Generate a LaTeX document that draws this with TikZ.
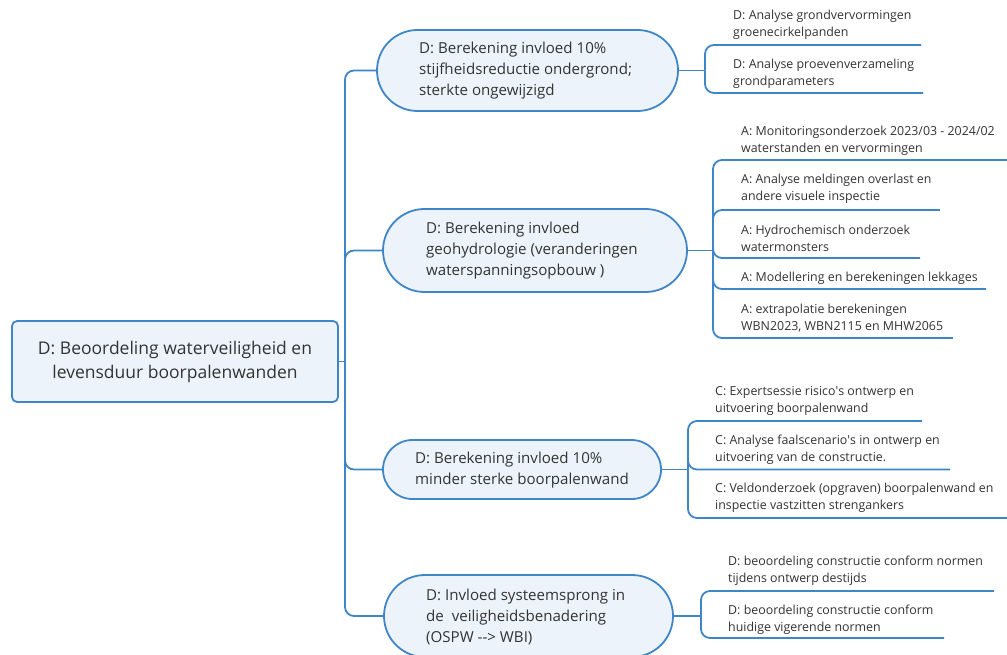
\documentclass[tikz,border=0pt]{standalone}
\usepackage{fontspec}
\usetikzlibrary{shapes.misc}
\setmainfont{Open Sans}
\newfontfamily\apf{Open Sans}
\definecolor{lineblue}{HTML}{3F86C8}
\definecolor{boxfill}{HTML}{EDF3FA}
\definecolor{txt}{HTML}{333333}
\newcommand{\apos}{{\apf '}}
\begin{document}
\begin{tikzpicture}[x=1pt,y=-1pt,
  conn/.style={draw=lineblue,line width=1.8pt,rounded corners=9pt},
  rootbox/.style={draw=lineblue,fill=boxfill,line width=1.8pt,rounded corners=5pt,inner sep=0pt},
  bubble/.style={draw=lineblue,fill=boxfill,line width=1.8pt,rounded rectangle,inner sep=0pt},
  roottext/.style={text=txt,font=\fontsize{17.5}{24}\selectfont,align=center,inner sep=0pt},
  btext/.style={text=txt,font=\fontsize{15.1}{21}\selectfont,align=left,anchor=west,inner sep=0pt},
  ctext/.style={text=txt,font=\fontsize{12.4}{17}\selectfont,align=left,anchor=west,inner sep=0pt}]
\useasboundingbox (0,0) rectangle (1007,655);
\begin{scope}
\clip (0,0) rectangle (1007,655);
% root
\node[rootbox,minimum width=326pt,minimum height=81pt] (root) at (175,361.5) {};
\node[roottext] (roott) at (175,362) {D: Beoordeling waterveiligheid en\\levensduur boorpalenwanden};
% main boxes
\node[bubble,minimum width=301pt,minimum height=81pt] (b1) at (527.5,70.5) {};
\node[bubble,minimum width=304pt,minimum height=83pt] (b2) at (535,250.5) {};
\node[bubble,minimum width=278pt,minimum height=59pt] (b3) at (522,469.5) {};
\node[bubble,minimum width=289pt,minimum height=82pt] (b4) at (528.5,616) {};
\node[btext] (t1) at (419,71) {D: Berekening invloed 10\%\\stijfheidsreductie ondergrond;\\sterkte ongewijzigd};
\node[btext] (t2) at (426,251) {D: Berekening invloed\\geohydrologie (veranderingen\\waterspanningsopbouw )};
\node[btext] (t3) at (415,470.5) {D: Berekening invloed 10\%\\minder sterke boorpalenwand};
\node[btext] (t4) at (426,617) {D: Invloed systeemsprong in\\de\ \ veiligheidsbenadering\\(OSPW -{}-> WBI)};
% trunk
\coordinate (tr) at (345,361.5);
\draw[conn] (root.east) -- (tr);
\draw[conn] (tr) |- (b1.west);
\draw[conn] (tr) |- (b2.west);
\draw[conn] (tr) |- (b3.west);
\draw[conn] (tr) |- (b4.west);
% group 1
\coordinate (g1) at (705,70.5);
\draw[conn] (b1.east) -- (g1);
\node[ctext] (c11) at (733,24.5) {D: Analyse grondvervormingen\\groenecirkelpanden};
\node[ctext] (c12) at (733,73.5) {D: Analyse proevenverzameling\\grondparameters};
\coordinate (u11) at (921,45);
\coordinate (u12) at (923,93);
\draw[conn] (g1) |- (u11);
\draw[conn] (g1) |- (u12);
% group 2
\coordinate (g2) at (713,250.5);
\draw[conn] (b2.east) -- (g2);
\node[ctext] (c21) at (741,140.5) {A: Monitoringsonderzoek 2023/03 - 2024/02\\waterstanden en vervormingen};
\node[ctext] (c22) at (741,188.5) {A: Analyse meldingen overlast en\\andere visuele inspectie};
\node[ctext] (c23) at (741,238.5) {A: Hydrochemisch onderzoek\\watermonsters};
\node[ctext] (c24) at (741,278) {A: Modellering en berekeningen lekkages};
\node[ctext] (c25) at (741,318) {A: extrapolatie berekeningen\\WBN2023, WBN2115 en MHW2065};
\coordinate (u21) at (1008,160);
\coordinate (u22) at (940,210);
\coordinate (u23) at (920,258);
\coordinate (u24) at (986,289);
\coordinate (u25) at (953,338);
\foreach \u in {u21,u22,u23,u24,u25} \draw[conn] (g2) |- (\u);
% group 3
\coordinate (g3) at (688,469.5);
\draw[conn] (b3.east) -- (g3);
\node[ctext] (c31) at (715,400.5) {C: Expertsessie risico\apos s ontwerp en\\uitvoering boorpalenwand};
\node[ctext] (c32) at (715,449.5) {C: Analyse faalscenario\apos s in ontwerp en\\uitvoering van de constructie.};
\node[ctext] (c33) at (715,498) {C: Veldonderzoek (opgraven) boorpalenwand en\\inspectie vastzitten strengankers};
\coordinate (u31) at (922,421);
\coordinate (u32) at (950,469.5);
\coordinate (u33) at (1008,518);
\foreach \u in {u31,u32,u33} \draw[conn] (g3) |- (\u);
% group 4
\coordinate (g4) at (701,616);
\draw[conn] (b4.east) -- (g4);
\node[ctext] (c41) at (728,570.5) {D: beoordeling constructie conform normen\\tijdens ontwerp destijds};
\node[ctext] (c42) at (728,619.5) {D: beoordeling constructie conform\\huidige vigerende normen};
\coordinate (u41) at (994,591);
\coordinate (u42) at (944,638);
\foreach \u in {u41,u42} \draw[conn] (g4) |- (\u);
\end{scope}
\end{tikzpicture}
\end{document}
